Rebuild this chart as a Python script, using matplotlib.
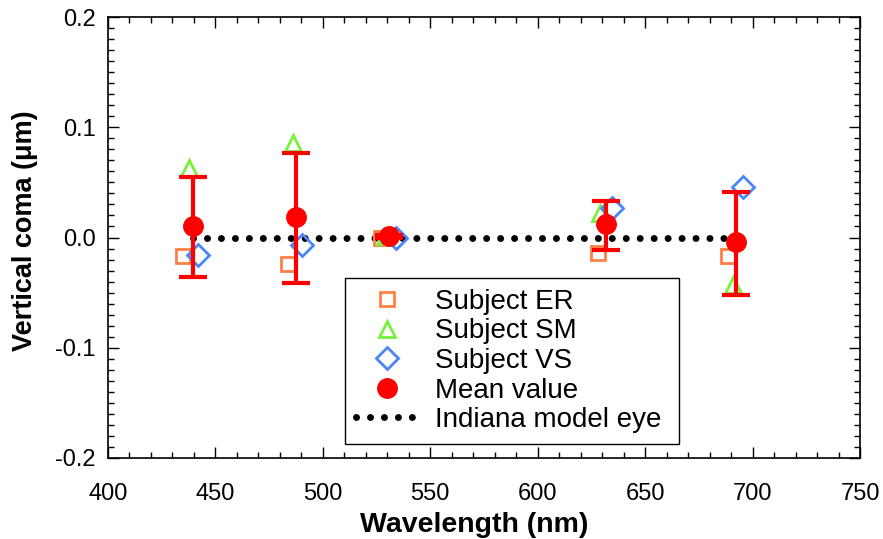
import matplotlib
matplotlib.use("Agg")
import matplotlib.pyplot as plt
from matplotlib.lines import Line2D
from matplotlib.ticker import MultipleLocator

plt.rcParams["font.family"] = ["Liberation Sans", "DejaVu Sans"]

# wavelengths (nm) for each subject and for the mean
wl_er = [435, 484, 527, 628, 688.5]
er = [-0.017, -0.024, 0.000, -0.014, -0.017]

wl_sm = [437.5, 486, 529, 629, 691]
sm = [0.063, 0.086, 0.001, 0.022, -0.043]

wl_vs = [442, 490.5, 534, 634.5, 695.5]
vs = [-0.016, -0.007, 0.000, 0.027, 0.046]

wl_mean = [439.5, 487.5, 531, 632, 692.5]
mean = [0.0105, 0.019, 0.001, 0.012, -0.0045]
err_up = [0.0445, 0.058, 0.001, 0.021, 0.046]
err_lo = [0.0465, 0.060, 0.001, 0.023, 0.0475]

indiana = [0.0, 0.0, 0.0, 0.0, 0.0]

C_ER = "#ff7f45"
C_SM = "#77f23a"
C_VS = "#4a86f5"
DOTS = dict(color="black", lw=5, linestyle=(0, (0.01, 2.0)),
            dash_capstyle="round")


def main():
    fig = plt.figure(figsize=(8.83, 5.39), dpi=100)
    ax = fig.add_axes([108 / 883, 1 - 458 / 539, 752 / 883, 441 / 539])

    ax.plot(wl_mean, indiana, zorder=2, **DOTS)
    ax.plot(wl_er, er, "s", ms=9.5, mfc="none", mec=C_ER, mew=2, zorder=3)
    ax.plot(wl_sm, sm, "^", ms=12, mfc="none", mec=C_SM, mew=2, zorder=3)
    ax.plot(wl_vs, vs, "D", ms=11, mfc="none", mec=C_VS, mew=2, zorder=3)
    ax.errorbar(wl_mean, mean, yerr=[err_lo, err_up], fmt="o", ms=14,
                color="red", ecolor="red", elinewidth=3, capsize=10,
                capthick=3, zorder=4)

    ax.set_xlim(400, 750)
    ax.set_ylim(-0.2, 0.2)
    ax.xaxis.set_major_locator(MultipleLocator(50))
    ax.xaxis.set_minor_locator(MultipleLocator(10))
    ax.yaxis.set_minor_locator(MultipleLocator(0.01))
    ax.set_yticks([-0.2, -0.1, 0.0, 0.1, 0.2])
    ax.set_yticklabels(["-0.2", "-0.1", "0.0", "0.1", "0.2"])
    ax.tick_params(which="both", direction="in", top=True, right=True,
                   labelsize=17, width=1)
    ax.tick_params(which="major", length=8)
    ax.tick_params(which="minor", length=4)
    ax.tick_params(axis="x", pad=18)
    ax.tick_params(axis="y", pad=9)
    for s in ax.spines.values():
        s.set_linewidth(1.2)

    ax.set_xlabel("Wavelength (nm)", fontsize=20.5, fontweight="bold", labelpad=5)
    ax.xaxis.label.set_x(0.487)
    ax.set_ylabel("Vertical coma (\u03bcm)", fontsize=19.5, fontweight="bold",
                  labelpad=12)
    ax.yaxis.label.set_y(0.515)

    hs = [
        Line2D([], [], ls="none", marker="s", ms=9.5, mfc="none", mec=C_ER, mew=2),
        Line2D([], [], ls="none", marker="^", ms=12, mfc="none", mec=C_SM, mew=2),
        Line2D([], [], ls="none", marker="D", ms=11, mfc="none", mec=C_VS, mew=2),
        Line2D([], [], ls="none", marker="o", ms=14, color="red"),
        Line2D([], [], **DOTS),
    ]
    labels = ["Subject ER", "Subject SM", "Subject VS", "Mean value",
              "Indiana model eye"]
    leg = ax.legend(hs, labels, loc="upper left",
                    bbox_to_anchor=(345 / 883, 1 - 283 / 539, 334 / 883, 0.01),
                    bbox_transform=fig.transFigure, mode="expand",
                    fontsize=20, frameon=True, fancybox=False, framealpha=1,
                    edgecolor="black", borderpad=0.4, labelspacing=0.13,
                    handlelength=2.2, handletextpad=0.65, borderaxespad=0)
    leg.get_frame().set_linewidth(1)

    fig.savefig("out.png", dpi=100)


if __name__ == "__main__":
    main()
